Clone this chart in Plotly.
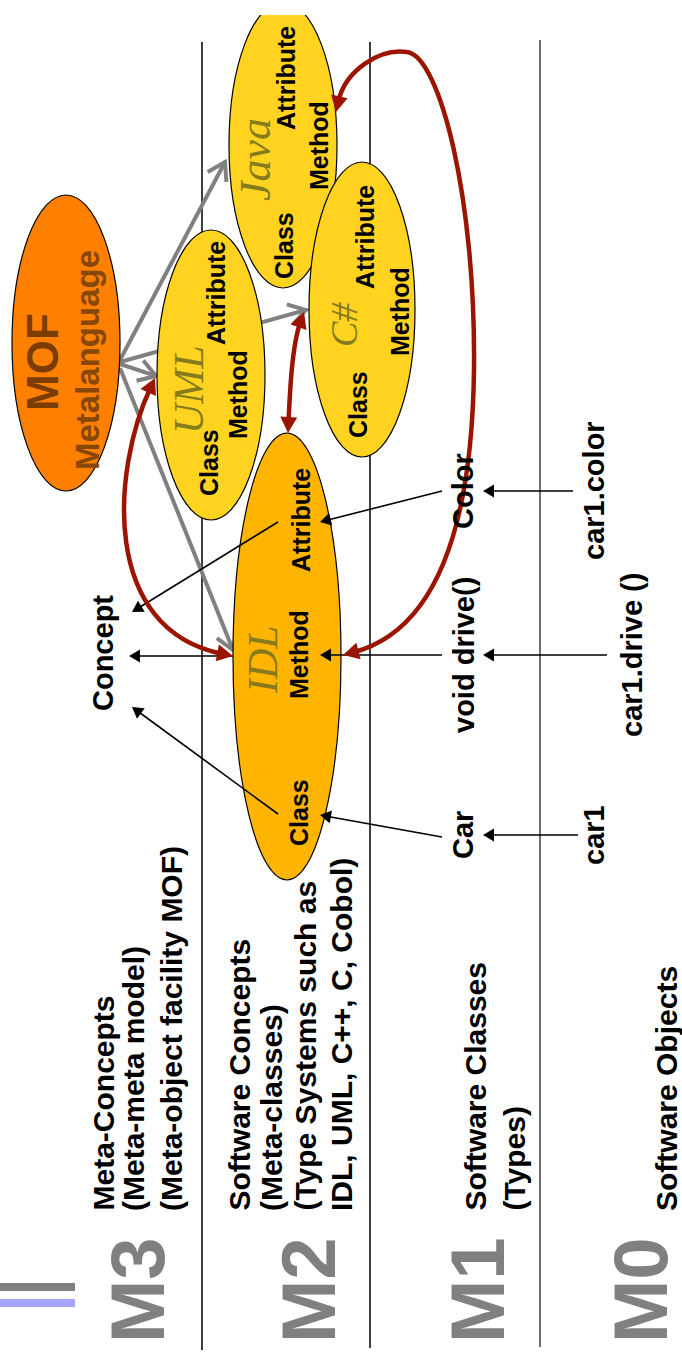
import math
import plotly.graph_objects as go

W, H = 682, 1354

# ---------------- data ----------------
# separator lines between meta levels
SEP_X = [202, 370, 540]
SEP_TOP = [42, 42, 40]
SEP_BOT = [1350, 1348, 1347]
SEP_COLOR = ["#000000", "#000000", "#404040"]

# title decoration bars
BAR_Y0 = [1283, 1299]
BAR_Y1 = [1291, 1307]
BAR_X1 = [75, 75]
BAR_COLOR = ["#808080", "#A6A6FF"]

# ellipses
ELL_NAMES = ["MOF", "UML", "Java", "C#", "IDL"]
ELL_X0 = [12, 157, 229, 309, 233]
ELL_X1 = [120, 265, 337, 415, 341]
ELL_Y0 = [195, 230, 2, 162, 433]
ELL_Y1 = [491, 520, 288, 457, 880]
ELL_FILL = ["#FF8000", "#FFD320", "#FFD320", "#FFD320", "#FFB400"]

# member labels inside ellipses
MEM_TEXT = ["Attribute", "Method", "Class",
            "Attribute", "Method", "Class",
            "Attribute", "Method", "Class",
            "Attribute", "Method", "Class"]
MEM_X = [216, 238, 209, 286, 319, 284, 365, 400, 358, 301, 299, 299]
MEM_Y = [293, 395, 463, 78, 146, 246, 237, 312, 405, 520, 655, 813]

# script language names
LANG_TEXT = ["UML", "Java", "C#", "IDL"]
LANG_X = [189, 255, 344, 263]
LANG_Y = [390, 160, 325, 660]
LANG_SIZE = [42, 44, 38, 42]

# MOF labels
MOF_TEXT = ["MOF", "Metalanguage"]
MOF_X = [42, 87]
MOF_Y = [362, 360]
MOF_SIZE = [44, 33]
MOF_COLOR = ["#7A3C00", "#874708"]

# concept / class / object labels
BODY_TEXT = ["Concept", "Color", "void drive()", "Car",
             "car1.color", "car1.drive ()", "car1"]
BODY_X = [103, 463, 464, 463, 594, 632, 594]
BODY_Y = [653, 491, 655, 835, 491, 655, 835]

# level descriptions (bottom aligned)
DESC_TEXT = ["Meta-Concepts", "(Meta-meta model)", "(Meta-object facility MOF)",
             "Software Concepts", "(Meta-classes)", "(Type Systems such as",
             "IDL, UML, C++, C, Cobol)",
             "Software Classes", "(Types)",
             "Software Objects"]
DESC_X = [103, 133.5, 171.5, 238.5, 271.5, 304.5, 341.5, 474.5, 513.5, 666.5]
DESC_BOTTOM = 1213

# level names
LEVEL_TEXT = ["M3", "M2", "M1", "M0"]
LEVEL_X = [137, 308, 477, 640]
LEVEL_Y = 1290

# gray "instance of" arrows from MOF
GRAY_FROM = [(120, 360), (120, 364), (120, 362), (120, 368)]
GRAY_TO = [(225, 162), (156, 376), (306, 310), (233, 650)]

# black arrows (tail -> head)
BLK_FROM = [(573, 491), (607, 655), (578, 835),
            (442, 491), (442, 655), (442, 837),
            (278, 522), (233, 656), (278, 814)]
BLK_TO = [(483, 491), (483, 655), (483, 835),
          (320, 522), (320, 655), (320, 815),
          (132, 612), (129, 656), (132, 707)]

# red mapping curves (cubic bezier chains), double headed
RED_CURVES = [
    [(288, 433), (290, 390), (292, 345), (304, 312)],                 # IDL <-> C#
    [(155, 378), (112, 470), (100, 630), (233, 656)],                 # UML <-> IDL
    [(336, 112), (345, 70), (380, 48), (407, 52),
     (440, 56), (476, 200), (474, 370),
     (472, 520), (440, 630), (343, 655)],                             # Java <-> IDL
]

RED = "#9A1400"
GRAY = "#808080"
FONT = "Liberation Sans"


# ---------------- helpers ----------------
def unit(a, b):
    dx, dy = b[0] - a[0], b[1] - a[1]
    n = math.hypot(dx, dy)
    return dx / n, dy / n


def tri_path(tip, frm, L, wd):
    ux, uy = unit(frm, tip)
    bx, by = tip[0] - ux * L, tip[1] - uy * L
    nx, ny = -uy, ux
    return (f"M {tip[0]},{tip[1]} L {bx + nx * wd / 2},{by + ny * wd / 2} "
            f"L {bx - nx * wd / 2},{by - ny * wd / 2} Z")


def chevron_path(tip, frm, L, ang):
    ux, uy = unit(tip, frm)
    a = math.radians(ang)
    pts = []
    for s in (a, -a):
        c, si = math.cos(s), math.sin(s)
        vx, vy = ux * c - uy * si, ux * si + uy * c
        pts.append((tip[0] + vx * L, tip[1] + vy * L))
    return (f"M {pts[0][0]},{pts[0][1]} L {tip[0]},{tip[1]} "
            f"L {pts[1][0]},{pts[1][1]}")


shapes = []

# separator lines
for x, y0, y1, c in zip(SEP_X, SEP_TOP, SEP_BOT, SEP_COLOR):
    shapes.append(dict(type="line", x0=x, x1=x, y0=y0, y1=y1,
                       line=dict(color=c, width=1.5)))

# decoration bars
for y0, y1, x1, c in zip(BAR_Y0, BAR_Y1, BAR_X1, BAR_COLOR):
    shapes.append(dict(type="rect", x0=0, x1=x1, y0=y0, y1=y1,
                       fillcolor=c, line=dict(width=0)))

# gray arrows (below ellipses)
for a, b in zip(GRAY_FROM, GRAY_TO):
    ux, uy = unit(a, b)
    shapes.append(dict(type="line", x0=a[0], y0=a[1], x1=b[0] - ux * 2, y1=b[1] - uy * 2,
                       line=dict(color=GRAY, width=4)))
    shapes.append(dict(type="path", path=chevron_path(b, a, 20, 32),
                       line=dict(color=GRAY, width=4)))

# ellipses
for x0, x1, y0, y1, f in zip(ELL_X0, ELL_X1, ELL_Y0, ELL_Y1, ELL_FILL):
    shapes.append(dict(type="circle", x0=x0, x1=x1, y0=y0, y1=y1,
                       fillcolor=f, line=dict(color="#000000", width=1.2)))

# clip top edge of the slide
shapes.append(dict(type="rect", x0=0, x1=W, y0=-5, y1=15,
                   fillcolor="white", line=dict(width=0)))

# black arrows
for a, b in zip(BLK_FROM, BLK_TO):
    ux, uy = unit(a, b)
    shapes.append(dict(type="line", x0=a[0], y0=a[1], x1=b[0] - ux * 8, y1=b[1] - uy * 8,
                       line=dict(color="#000000", width=1.6)))
    shapes.append(dict(type="path", path=tri_path(b, a, 11, 13),
                       fillcolor="#000000", line=dict(width=0)))

# red curves
for pts in RED_CURVES:
    p0, c1 = pts[0], pts[1]
    pn, cn = pts[-1], pts[-2]
    u0 = unit(p0, c1)
    un = unit(pn, cn)
    s0 = (p0[0] + u0[0] * 10, p0[1] + u0[1] * 10)
    sn = (pn[0] + un[0] * 10, pn[1] + un[1] * 10)
    q = [s0] + pts[1:-1] + [sn]
    path = f"M {q[0][0]},{q[0][1]}"
    for i in range(1, len(q), 3):
        path += f" C {q[i][0]},{q[i][1]} {q[i + 1][0]},{q[i + 1][1]} {q[i + 2][0]},{q[i + 2][1]}"
    shapes.append(dict(type="path", path=path, line=dict(color=RED, width=4.5)))
    shapes.append(dict(type="path", path=tri_path(p0, c1, 16, 17),
                       fillcolor=RED, line=dict(width=0)))
    shapes.append(dict(type="path", path=tri_path(pn, cn, 16, 17),
                       fillcolor=RED, line=dict(width=0)))

annotations = []


def add_text(t, x, y, size, color, family=FONT, bold=True, italic=False,
             yanchor="middle"):
    txt = f"<i>{t}</i>" if italic else t
    annotations.append(dict(
        text=txt, x=x, y=y, xref="x", yref="y", showarrow=False,
        textangle=-90, xanchor="center", yanchor=yanchor,
        font=dict(family=family, size=size, color=color,
                  weight="bold" if bold else "normal"),
    ))


for t, x, y in zip(MEM_TEXT, MEM_X, MEM_Y):
    add_text(t, x, y, 25, "#000000")
for t, x, y, s in zip(LANG_TEXT, LANG_X, LANG_Y, LANG_SIZE):
    add_text(t, x, y, s, "#857A1C", family="Liberation Serif", bold=False, italic=True)
for t, x, y, s, c in zip(MOF_TEXT, MOF_X, MOF_Y, MOF_SIZE, MOF_COLOR):
    add_text(t, x, y, s, c)
for t, x, y in zip(BODY_TEXT, BODY_X, BODY_Y):
    add_text(t, x, y, 29, "#000000")
for t, x in zip(DESC_TEXT, DESC_X):
    add_text(t, x, DESC_BOTTOM, 30, "#000000", yanchor="bottom")
for t, x in zip(LEVEL_TEXT, LEVEL_X):
    add_text(t, x, LEVEL_Y, 76, "#808080")

fig = go.Figure()
fig.update_layout(
    width=W, height=H, autosize=False,
    margin=dict(l=0, r=0, t=0, b=0, pad=0),
    paper_bgcolor="white", plot_bgcolor="white",
    xaxis=dict(range=[0, W], visible=False, fixedrange=True),
    yaxis=dict(range=[H, 0], visible=False, fixedrange=True),
    shapes=shapes, annotations=annotations, showlegend=False,
)
fig.write_html("out.html", config={"displayModeBar": False},
               post_script="document.body.style.margin='0';document.body.style.overflow='hidden';")
